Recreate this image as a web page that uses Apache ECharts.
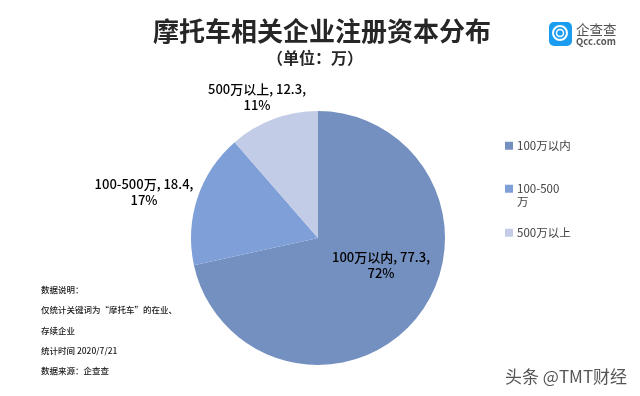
<!DOCTYPE html>
<html><head><meta charset="utf-8">
<style>html,body{margin:0;padding:0;background:#fff}#c{width:640px;height:396px}</style>
<script src="https://cdn.jsdelivr.net/npm/echarts@6/dist/echarts.min.js"></script></head>
<body><div id="c"></div>
<script>
const categories = ['100万以内', '100-500万', '500万以上'];
const values = [77.3, 18.4, 12.3];
const percents = ['72%', '17%', '11%'];
const colors = ['#7390c0', '#7f9fd8', '#c2cce6'];
const font = '"Noto Sans CJK SC","Noto Sans",sans-serif';
const labelLines = [
  ['100万以内, 77.3,', '72%'],
  ['100-500万, 18.4,', '17%'],
  ['500万以上, 12.3,', '11%']
];
const labelCenters = [[381, 265], [144, 192], [257, 97]];
const notes = ['数据说明\uFF1A', '仅统计关键词为“摩托车”的在业、', '存续企业', '统计时间 2020/7/21', '数据来源\uFF1A企查查'];
const noteY = [291, 311, 332, 352, 372];
const legendY = [140, 183, 227];

const chart = echarts.init(document.getElementById('c'), null, {renderer: 'canvas'});
chart.setOption({
  animation: false,
  backgroundColor: '#fff',
  textStyle: {fontFamily: font},
  legend: categories.map((c, i) => ({
    data: [c], left: 505, top: legendY[i], padding: 0, itemWidth: 8, itemHeight: 8, icon: 'rect', itemGap: 0,
    selectedMode: false,
    formatter: n => n === '100-500万' ? '100-500' : n,
    textStyle: {fontSize: 11.5, color: '#404040', fontFamily: font, padding: [0, 0, 0, -1]}
  })),
  color: colors,
  series: [{
    type: 'pie', center: [318, 238], radius: [0, 127], startAngle: 90, clockwise: true,
    data: categories.map((c, i) => ({name: c, value: values[i], itemStyle: {color: colors[i]}})),
    label: {
      position: 'inside', color: '#000', fontSize: 13, lineHeight: 16, fontWeight: 500, align: 'center',
      fontFamily: font,
      formatter: p => labelLines[p.dataIndex].join('\n')
    },
    labelLine: {show: false},
    labelLayout: p => ({x: labelCenters[p.dataIndex][0], y: labelCenters[p.dataIndex][1], align: 'center', verticalAlign: 'middle'}),
    emphasis: {disabled: true}
  }],
  graphic: [
    {type: 'text', left: 153, top: 18, style: {text: '摩托车相关企业注册资本分布', font: '700 26px ' + font, fill: '#262626'}},
    {type: 'text', left: 267, top: 50, style: {text: '\uFF08单位\uFF1A万\uFF09', font: '700 16px ' + font, fill: '#262626'}},
    {type: 'text', left: 517, top: 196, style: {text: '万', font: '11.5px ' + font, fill: '#404040'}},
    ...notes.map((t, i) => ({type: 'text', left: 41, top: noteY[i] - 5, style: {text: t, font: '500 8.5px ' + font, fill: '#1a1a1a'}})),
    {type: 'rect', shape: {x: 549, y: 22, width: 23, height: 24, r: 5}, style: {fill: '#1a9cf0'}},
    {type: 'circle', shape: {cx: 560, cy: 33, r: 7}, style: {fill: 'none', stroke: '#fff', lineWidth: 2}},
    {type: 'circle', shape: {cx: 560, cy: 33, r: 3.5}, style: {fill: 'none', stroke: '#fff', lineWidth: 1.5}},
    {type: 'text', left: 576, top: 23, style: {text: '企查查', font: '13.5px ' + font, fill: '#555'}},
    {type: 'text', left: 576, top: 37, style: {text: 'Qcc.com', font: '600 9.5px ' + font, fill: '#555'}},
    {type: 'text', left: 505, top: 368, style: {text: '头条 @TMT财经', font: '17px ' + font, fill: '#555'}}
  ]
});
</script></body></html>
